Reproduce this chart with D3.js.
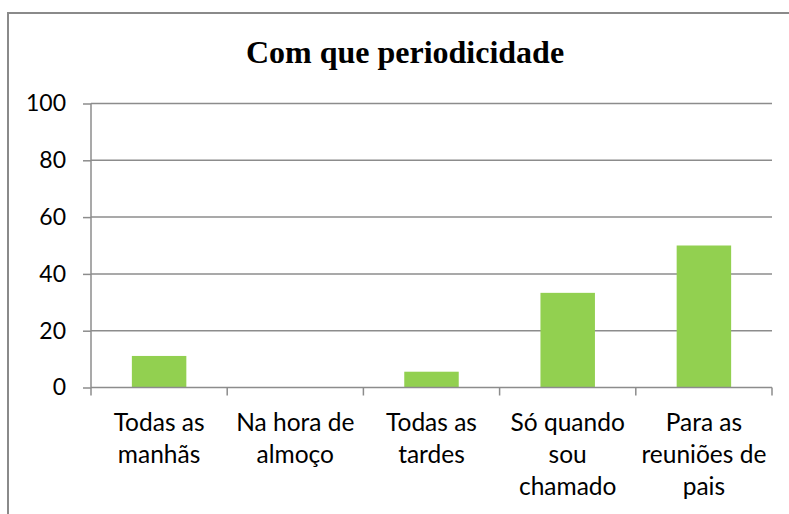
<!DOCTYPE html>
<html><head><meta charset="utf-8">
<script src="https://cdn.jsdelivr.net/npm/d3@7/dist/d3.min.js"></script>
<style>html,body{margin:0;padding:0;background:#fff;overflow:hidden}</style>
</head><body>
<script>
const categories = [["Todas as","manhãs"],["Na hora de","almoço"],["Todas as","tardes"],["Só quando","sou","chamado"],["Para as","reuniões de","pais"]];
const values = [11.11, 0, 5.56, 33.33, 50];
const yTicks = [0, 20, 40, 60, 80, 100];
const title = "Com que periodicidade";

(function () {
const W = 789, H = 514;
const svg = d3.select("body").append("svg").attr("width", W).attr("height", H);

svg.append("rect").attr("x", 8).attr("y", 13).attr("width", 820).attr("height", 540)
  .attr("fill", "none").attr("stroke", "#8a8a8a").attr("stroke-width", 2);

const pLeft = 91, pRight = 772, pTop = 103.5, pBottom = 387.5;
const x = d3.scaleBand().domain(d3.range(categories.length)).range([pLeft, pRight]).paddingInner(0.6).paddingOuter(0.3);
const y = d3.scaleLinear().domain([0, 100]).range([pBottom, pTop]);

svg.append("text").attr("x", 405).attr("y", 63).attr("text-anchor", "middle")
  .attr("font-family", "Liberation Serif, Times New Roman, serif").attr("font-weight", "bold")
  .attr("font-size", 32).attr("fill", "#000").text(title);

svg.append("g").selectAll("line").data(yTicks.filter(d => d > 0)).join("line")
  .attr("x1", pLeft).attr("x2", pRight).attr("y1", d => y(d)).attr("y2", d => y(d))
  .attr("stroke", "#8c8c8c").attr("stroke-width", 1.5);

svg.append("g").selectAll("rect").data(values).join("rect")
  .attr("x", (d, i) => x(i)).attr("width", x.bandwidth())
  .attr("y", d => y(d)).attr("height", d => pBottom - y(d))
  .attr("fill", "#92d050");

const yAxis = svg.append("g").attr("transform", `translate(${pLeft},0)`)
  .call(d3.axisLeft(y).tickValues(yTicks).tickSize(8).tickPadding(17).tickFormat(d3.format("d")));
yAxis.select(".domain").attr("stroke", "#8c8c8c").attr("stroke-width", 1.5).attr("d", `M0,${pTop}V${pBottom}`);
yAxis.selectAll(".tick line").attr("stroke", "#8c8c8c").attr("stroke-width", 1.5);
yAxis.selectAll(".tick text").attr("font-family", "Lato, sans-serif").attr("font-size", 23).attr("fill", "#000");

const edges = d3.range(categories.length + 1).map(i => pLeft + i * x.step());
const xg = svg.append("g");
xg.append("line").attr("x1", pLeft).attr("x2", pRight).attr("y1", pBottom).attr("y2", pBottom)
  .attr("stroke", "#8c8c8c").attr("stroke-width", 1.5);
xg.selectAll("line.t").data(edges).join("line").attr("class", "t")
  .attr("x1", d => d).attr("x2", d => d).attr("y1", pBottom).attr("y2", pBottom + 8)
  .attr("stroke", "#8c8c8c").attr("stroke-width", 1.5);

const labels = svg.append("g").selectAll("text").data(categories).join("text")
  .attr("text-anchor", "middle").attr("font-family", "Lato, sans-serif").attr("font-size", 24.5).attr("fill", "#000")
  .attr("x", (d, i) => x(i) + x.bandwidth() / 2).attr("y", 431);
labels.selectAll("tspan").data(d => d).join("tspan")
  .attr("x", function() { return this.parentNode.getAttribute("x"); })
  .attr("dy", (d, i) => i === 0 ? 0 : 32).text(d => d);
})();
</script>
</body></html>
